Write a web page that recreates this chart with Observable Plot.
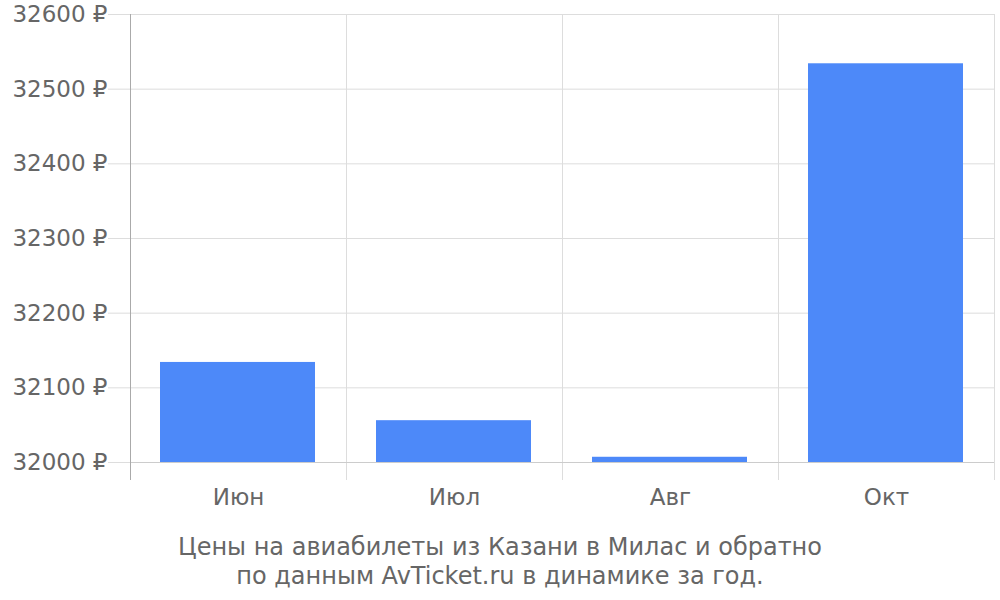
<!DOCTYPE html>
<html>
<head>
<meta charset="utf-8">
<script src="https://cdn.jsdelivr.net/npm/d3@7"></script>
<script src="https://cdn.jsdelivr.net/npm/@observablehq/plot@0.6"></script>
<style>
  html, body { margin: 0; padding: 0; background: #fff; }
  #chart { width: 1000px; height: 520px; }
  .caption { font-family: "DejaVu Sans", sans-serif; font-size: 24px; color: #666; text-align: center; line-height: 29px; width: 1000px; margin-top: 13px; }
</style>
</head>
<body>
<div id="chart"></div>
<script>
const months = ["Июн", "Июл", "Авг", "Окт"];
const prices = [32134, 32056, 32007, 32534];
const yTicks = [32000, 32100, 32200, 32300, 32400, 32500, 32600];
const captionLines = ["Цены на авиабилеты из Казани в Милас и обратно", "по данным AvTicket.ru в динамике за год."];

const data = months.map((m, i) => ({month: m, price: prices[i]}));

const W = 1000, H = 520, mL = 130, mR = 6, mT = 14, mB = 58;
const bw = (W - mL - mR) / months.length;
const yMin = yTicks[0], yMax = yTicks[yTicks.length - 1];
const pxPerUnit = (H - mT - mB) / (yMax - yMin);
const yBelow = yMin - 18 / pxPerUnit;

const plot = Plot.plot({
  width: W, height: H,
  marginLeft: mL, marginRight: mR, marginTop: mT, marginBottom: mB,
  style: {fontFamily: "DejaVu Sans, sans-serif", fontSize: "23px", color: "#666", background: "#fff", overflow: "visible"},
  x: {domain: months, padding: 0, label: null},
  y: {domain: [yMin, yMax], label: null},
  marks: [
    Plot.gridY(yTicks, {stroke: "#ddd", strokeOpacity: 1}),
    Plot.ruleX(months, {x: d => d, dx: bw / 2, y1: yMax, y2: yBelow, stroke: "#ddd"}),
    Plot.barY(data, {x: "month", y1: yMin, y2: "price", fill: "#4d89f9", insetLeft: 30, insetRight: 31}),
    Plot.ruleY([yMin], {stroke: "#ccc"}),
    Plot.ruleX([months[0]], {dx: -bw / 2, y1: yMax, y2: yBelow, stroke: "#aaa"}),
    Plot.axisY(yTicks, {tickFormat: d => d + " ₽", tickSize: 22, tickPadding: 1, stroke: "#ddd", color: "#666", fontSize: 23}),
    Plot.axisX({tickSize: 0, tickPadding: 26, fontSize: 23, color: "#666"})
  ]
});
document.getElementById("chart").appendChild(plot);
const cap = document.createElement("div");
cap.className = "caption";
cap.innerHTML = captionLines.join("<br>");
document.body.appendChild(cap);
</script>
</body>
</html>
